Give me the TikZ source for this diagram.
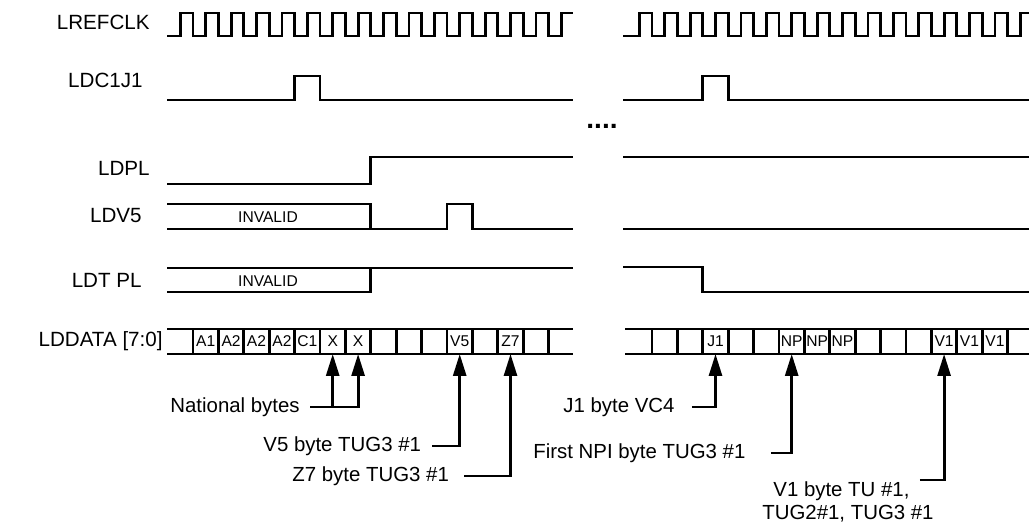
\documentclass[tikz,border=0pt]{standalone}
\usepackage{fontspec}
\setmainfont{Liberation Sans}
\usetikzlibrary{arrows.meta}
\begin{document}
\begin{tikzpicture}[x=0.5pt, y=-0.5pt,
        wave/.style={line width=1.4pt},
        sig/.style={anchor=east, inner sep=0pt, font=\fontsize{10.3}{12}\selectfont},
        note/.style={anchor=west, inner sep=0pt, font=\fontsize{10.2}{12}\selectfont},
        small/.style={inner sep=0pt, font=\fontsize{7.8}{9}\selectfont},
        cell/.style={draw, line width=1.4pt, minimum width=12.7pt, minimum height=12.5pt,
            inner sep=0pt, outer sep=0pt, font=\fontsize{7.8}{9}\selectfont},
        conn/.style={line width=1.4pt, -{Triangle[length=11pt, width=6.5pt]}}]
        \useasboundingbox (0,0) rectangle (1029,523);
        % signal names
        \node[sig] (clk) at (150,22) {LREFCLK};
        \node[sig] (c1j1) at (143,80) {LDC1J1};
        \node[sig] (dpl) at (150,168) {LDPL};
        \node[sig] (dv5) at (142,216) {LDV5};
        \node[sig] (dtpl) at (142,280) {LDT PL};
        \node[sig] (ddata) at (163,341) {LDDATA [7:0]};
        % clock
        \draw[wave] (167,36) -- (180.3,36) \foreach \k in {0,...,14} {-- ++(0,-23) -- ++(12.7,0) -- ++(0,23) -- ++(12.7,0)} -- ++(0,-23) -- (573,13);
        \draw[wave] (623,36) -- (639.3,36) \foreach \k in {0,...,14} {-- ++(0,-23) -- ++(12.7,0) -- ++(0,23) -- ++(12.7,0)} -- ++(0,-23) -- (1029,13);
        % LDC1J1
        \draw[wave] (167,100) -- (294.6,100) -- (294.6,76) -- (320,76) -- (320,100) -- (573,100);
        \draw[wave] (623,100) -- (702.8,100) -- (702.8,76) -- (728.2,76) -- (728.2,100) -- (1029,100);
        % LDPL
        \draw[wave] (167,184) -- (370.8,184) -- (370.8,157) -- (573,157);
        \draw[wave] (623,157) -- (1029,157);
        % LDV5
        \draw[wave] (167,204) -- (370.8,204) -- (370.8,229);
        \draw[wave] (167,229) -- (447,229) -- (447,204) -- (472.4,204) -- (472.4,229) -- (573,229);
        \draw[wave] (623,229) -- (1029,229);
        \node[small] (inv1) at (268,217) {INVALID};
        % LDTPL
        \draw[wave] (167,292) -- (370.8,292) -- (370.8,268);
        \draw[wave] (167,268) -- (573,268);
        \draw[wave] (623,267) -- (702.8,267) -- (702.8,292) -- (1029,292);
        \node[small] (inv2) at (268,281) {INVALID};
        % gap
        \node[anchor=base, inner sep=0pt, font=\fontsize{14}{16}\selectfont\bfseries] (gap) at (602,129) {....};
        % data bytes
        \foreach \k/\t in {0/A1,1/A2,2/A2,3/A2,4/C1,5/X,6/X,7/,8/,9/,10/V5,11/,12/Z7,13/}
            \node[cell] (lc\k) at (205.7+25.4*\k,341.5) {\t};
        \foreach \k/\t in {0/,1/,2/J1,3/,4/,5/NP,6/NP,7/NP,8/,9/,10/,11/V1,12/V1,13/V1}
            \node[cell] (rc\k) at (664.7+25.4*\k,341.5) {\t};
        \draw[wave] (167,329) -- (lc0.north west) (167,354) -- (lc0.south west);
        \draw[wave] (lc13.north east) -- (573,329) (lc13.south east) -- (573,354);
        \draw[wave] (625,329) -- (rc0.north west) (625,354) -- (rc0.south west);
        \draw[wave] (rc13.north east) -- (1029,329) (rc13.south east) -- (1029,354);
        % notes
        \node[note] (nat) at (170,407) {National bytes};
        \node[note] (v5n) at (263,446) {V5 byte TUG3 \#1};
        \node[note] (z7n) at (292,476) {Z7 byte TUG3 \#1};
        \node[note] (j1n) at (563,407) {J1 byte VC4};
        \node[note] (npn) at (533,453) {First NPI byte TUG3 \#1};
        \node[note] (v1n) at (773,491) {V1 byte TU \#1,};
        \node[note] (v1m) at (762,514) {TUG2\#1, TUG3 \#1};
        \draw[conn] ([xshift=5pt]nat.east) -| (lc6.south);
        \draw[conn] (nat.east -| lc5.south) -- (lc5.south);
        \draw[conn] ([xshift=5.5pt]v5n.east) -| (lc10.south);
        \draw[conn] ([xshift=7.5pt]z7n.east) -| (lc12.south);
        \draw[conn] ([xshift=8.5pt]j1n.east) -| (rc2.south);
        \draw[conn] ([xshift=12.5pt]npn.east) -| (rc5.south);
        \draw[conn] ([xshift=5pt,yshift=0.5pt]v1n.north east) -| (rc11.south);
\end{tikzpicture}
\end{document}
